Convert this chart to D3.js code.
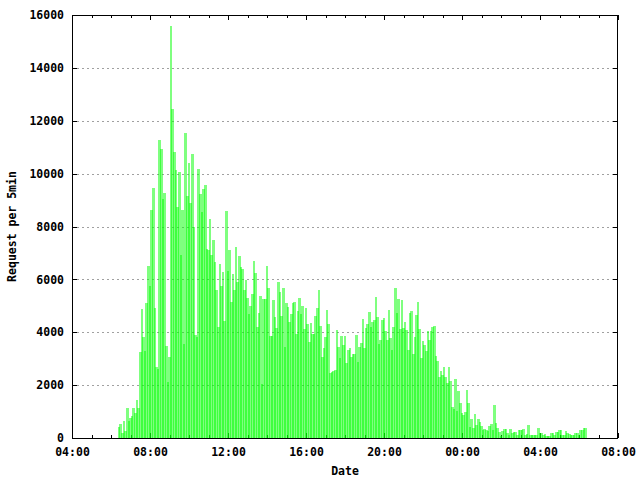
<!DOCTYPE html>
<html><head><meta charset="utf-8">
<script src="https://cdn.jsdelivr.net/npm/d3@7"></script>
<style>
body{margin:0;background:#fff}
text{font-family:"DejaVu Sans Mono","Liberation Mono",monospace;font-weight:bold;font-size:11.5px;fill:#000}
</style></head>
<body><svg id="c" width="640" height="480"></svg>
<script>
// Requests per 5 minutes, starting 06:25, one value every 5 minutes (288 values)
const requests = [
420,540,200,640,260,1130,640,750,830,1130,960,1440,1130,3250,4880,3820,3290,5100,6500,5750,
8620,9460,4920,2690,2610,11270,10930,9040,9270,3480,2120,3060,15590,12450,10820,10140,8740,10060,6920,8620,
3560,11540,9150,10400,8890,10740,7980,3900,3820,10180,9230,8550,9420,9570,7150,7100,8300,6920,7490,6660,
5600,4200,6580,5750,6280,4430,8590,6320,7110,5150,6200,5600,7230,5900,6890,6470,6390,5600,5980,5300,
4700,4990,5450,6700,6240,4200,4730,5370,2040,5260,5260,6500,5670,3860,3860,5220,4580,4160,5900,5520,
4610,5670,3440,5110,4960,4390,4700,5110,5150,3930,4800,5300,4700,4990,4120,4920,4300,3630,4350,3930,
3930,4610,4900,5600,4240,3060,3400,3820,4840,4300,2460,2500,2530,2570,4090,3440,3030,3860,3500,3860,
2840,3330,3400,3060,3180,3180,3900,2870,3440,3590,4500,3400,4160,4300,4770,4200,4390,4460,5330,4580,
3560,3710,4460,4540,4050,3710,4840,3780,3330,4200,5670,4730,5260,4120,5220,4160,4390,4090,3330,4730,
4800,3180,3820,4650,5150,4120,3030,3670,3520,3300,4050,3710,4050,4200,4240,3100,2900,2310,2530,2380,
2690,2300,2080,2690,2160,1170,1100,2230,1020,1780,1320,950,870,1000,1820,1320,420,720,380,910,
490,720,600,450,300,340,300,250,450,530,300,1250,570,380,230,75,260,340,340,190,
120,340,190,230,230,110,300,300,300,340,110,150,490,110,110,110,110,110,380,190,
190,110,150,80,80,80,190,190,110,230,230,300,300,110,110,260,190,150,110,110,
110,190,190,100,300,300,380,380
];
const startTime = new Date(2010, 0, 1, 6, 25);
const stepMinutes = 5;
const yTicks = [0,2000,4000,6000,8000,10000,12000,14000,16000];
const xTickLabels = ["04:00","08:00","12:00","16:00","20:00","00:00","04:00","08:00"];
const xLabel = "Date";
const yLabel = "Request per 5min";

const L=72,R=618,T=15,B=438;
const svg = d3.select("#c");
const x = d3.scaleTime().domain([new Date(2010,0,1,4,0), new Date(2010,0,2,8,0)]).range([L,R]);
const y = d3.scaleLinear().domain([0,16000]).range([B,T]);
const majorTimes = d3.timeHour.every(4).range(new Date(2010,0,1,4,0), new Date(2010,0,2,8,1));
const minorTimes = d3.timeHour.every(1).range(new Date(2010,0,1,4,0), new Date(2010,0,2,8,1)).filter(t=>t.getHours()%4!==0);

// grid
const grid = svg.append("g").attr("transform",`translate(${L},0)`)
  .call(d3.axisLeft(y).tickValues(yTicks.filter(v=>v>0&&v<16000)).tickSize(-(R-L)).tickFormat(""));
grid.select(".domain").remove();
grid.selectAll("line").attr("stroke","#a0a0a0").attr("stroke-dasharray","2,3").attr("shape-rendering","crispEdges");

// ticks
function styleAxis(g){g.select(".domain").remove();g.selectAll("line").attr("stroke","#000").attr("shape-rendering","crispEdges");}
svg.append("g").attr("transform",`translate(0,${B})`)
  .call(d3.axisBottom(x).tickValues(majorTimes).tickSizeInner(-5).tickSizeOuter(0).tickPadding(10)
    .tickFormat((d,i)=>xTickLabels[i])).call(styleAxis);
svg.append("g").attr("transform",`translate(0,${B})`)
  .call(d3.axisBottom(x).tickValues(minorTimes).tickSizeInner(-3).tickSizeOuter(0).tickFormat("")).call(styleAxis);
svg.append("g").attr("transform",`translate(0,${T})`)
  .call(d3.axisTop(x).tickValues(majorTimes).tickSizeInner(-5).tickSizeOuter(0).tickFormat("")).call(styleAxis);
svg.append("g").attr("transform",`translate(0,${T})`)
  .call(d3.axisTop(x).tickValues(minorTimes).tickSizeInner(-3).tickSizeOuter(0).tickFormat("")).call(styleAxis);
svg.append("g").attr("transform",`translate(${L},0)`)
  .call(d3.axisLeft(y).tickValues(yTicks).tickSizeInner(-5).tickSizeOuter(0).tickPadding(8).tickFormat(d3.format("d"))).call(styleAxis);
svg.append("g").attr("transform",`translate(${R},0)`)
  .call(d3.axisRight(y).tickValues(yTicks).tickSizeInner(-5).tickSizeOuter(0).tickFormat("")).call(styleAxis);
svg.selectAll(".tick text").style("font-family",null).style("font-size",null).attr("font-family",null).attr("font-size",null);
svg.selectAll("g").attr("font-family",null).attr("font-size",null);

// bars
const bw = 2.6;
svg.append("g").selectAll("rect").data(requests).join("rect")
  .attr("x",(d,i)=>x(new Date(+startTime + i*stepMinutes*60000)) - bw/2)
  .attr("y",d=>y(d))
  .attr("width",bw)
  .attr("height",d=>y(0)-y(d)-0.5)
  .attr("fill","#00ff00").attr("fill-opacity",0.5)
  .attr("shape-rendering","crispEdges");

// frame
svg.append("rect").attr("x",L+0.5).attr("y",T+0.5).attr("width",R-L-1).attr("height",B-T)
  .attr("fill","none").attr("stroke","#000").attr("shape-rendering","crispEdges");

// labels
svg.append("text").attr("x",(L+R)/2).attr("y",475).attr("text-anchor","middle").text(xLabel);
svg.append("text").attr("transform",`translate(16,${(T+B)/2}) rotate(-90)`).attr("text-anchor","middle").text(yLabel);
</script></body></html>
